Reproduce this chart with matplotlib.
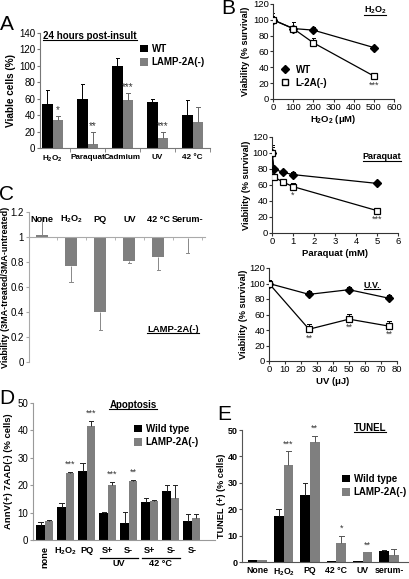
import matplotlib.pyplot as plt
import numpy as np
from matplotlib.lines import Line2D

plt.rcParams['font.family'] = ['Liberation Sans', 'DejaVu Sans']
plt.rcParams['mathtext.fontset'] = 'custom'
plt.rcParams['mathtext.rm'] = 'Liberation Sans'
plt.rcParams['mathtext.bf'] = 'Liberation Sans:bold'
plt.rcParams['mathtext.default'] = 'bf'

# ---- data ----
# A: viable cells 24 h post-insult
a_cats = ['H$_2$O$_2$', 'Paraquat', 'Cadmium', 'UV', '42 °C']
a_wt = [54, 60, 100, 56, 40]
a_wt_err = [17, 18, 9, 4, 19]
a_l2 = [34, 5, 59, 12, 32]
a_l2_err = [5, 14, 8, 7, 18]
a_stars = ['*', '**', '***', '***', '']

# B: dose curves
b1_x = [0, 100, 200, 500]
b1_wt = [100, 89, 87, 65]
b1_wt_err = [5, 3, 4, 2]
b1_l2 = [100, 89, 71, 29]
b1_l2_err = [9, 8, 6, 2]
b1_stars = ['', '', '', '***']

b2_x = [0, 0.1, 0.5, 1, 5]
b2_wt = [100, 80, 76, 73, 62]
b2_wt_err = [10, 3, 3, 3, 2]
b2_l2 = [100, 70, 64, 58, 28]
b2_l2_err = [8, 3, 4, 4, 2]
b2_stars = ['', '', '', '*', '***']

b3_x = [0, 25, 50, 75]
b3_wt = [100, 86, 92, 81]
b3_wt_err = [5, 4, 4, 4]
b3_l2 = [100, 41, 54, 45]
b3_l2_err = [5, 7, 7, 7]
b3_stars = ['', '**', '**', '**']

# C: 3MA ratio, LAMP-2A(-)
c_cats = ['None', 'H$_2$O$_2$', 'PQ', 'UV', '42 °C', 'Serum-']
c_vals = [1.02, 0.77, 0.40, 0.81, 0.84, 0.99]
c_err = [0.14, -0.13, -0.14, -0.02, -0.10, -0.12]

# D: apoptosis
d_cats = ['none', 'H$_2$O$_2$', 'PQ', 'S+', 'S-', 'S+', 'S-', 'S-']
d_groups = [('UV', 3, 4), ('42 °C', 5, 6)]
d_wt = [5.5, 12.2, 25.2, 9.8, 6.3, 14.0, 17.9, 7.0]
d_wt_err = [1.2, 1.4, 2.8, 0.6, 4.1, 1.2, 2.0, 2.4]
d_l2 = [6.8, 24.4, 41.7, 20.1, 21.5, 14.4, 15.2, 8.2]
d_l2_err = [0.4, 0.5, 1.6, 1.1, 0.5, 0.2, 4.7, 1.2]
d_stars = ['', '***', '***', '***', '**', '', '', '']

# E: TUNEL
e_cats = ['None', 'H$_2$O$_2$', 'PQ', '42 °C', 'UV', 'serum-']
e_wt = [0.9, 17.5, 25.4, 0.5, 0.3, 4.0]
e_wt_err = [0, 2.7, 4.5, 0, 0, 0.7]
e_l2 = [0.9, 36.9, 45.5, 7.2, 3.7, 2.5]
e_l2_err = [0, 5.0, 2.4, 2.8, 0, 2.5]
e_stars = ['', '***', '**', '*', '**', '']

GRAY = '#7f7f7f'
W, H = 410, 579
fig = plt.figure(figsize=(W / 100, H / 100), dpi=100)
underlined = []


def place(l, r, t, b):
    return fig.add_axes([l / W, 1 - b / H, (r - l) / W, (b - t) / H])


def ftext(x, y, s, under=False, **kw):
    kw.setdefault('ha', 'center')
    kw.setdefault('va', 'center')
    t = fig.text(x / W, 1 - y / H, s, **kw)
    if under:
        underlined.append(t)
    return t


def ylab(ax, x, s, size=6.8):
    b = ax.get_position()
    fig.text(x / W, b.y0 + b.height / 2, s, rotation=90, ha='center', va='center',
             fontsize=size, weight='bold')


def errs(ax, xs, tops, es, color, cap=0.07, lw=0.7, z=2):
    for xi, t, e in zip(xs, tops, es):
        if e == 0:
            continue
        ax.plot([xi, xi], [t, t + e], color=color, lw=lw, zorder=z, solid_capstyle='butt')
        ax.plot([xi - cap, xi + cap], [t + e, t + e], color=color, lw=lw, zorder=z)


def clean(ax, col='#777777'):
    for s in ['top', 'right']:
        ax.spines[s].set_visible(False)
    for s in ['left', 'bottom']:
        ax.spines[s].set_color(col)
        ax.spines[s].set_linewidth(0.8)
    ax.tick_params(labelsize=7, length=2, color=col, pad=1.5)


LEG = dict(frameon=False, loc='upper left', bbox_transform=fig.transFigure,
           prop={'weight': 'bold', 'size': 7}, handlelength=0.8, handleheight=0.8,
           handletextpad=0.4, labelspacing=0.35, borderaxespad=0, borderpad=0)

# ---- A ----
ax = place(40, 210, 33, 148)
x = np.arange(len(a_cats))
w = 0.3
ax.bar(x - w / 2, a_wt, w, color='black', label='WT')
ax.bar(x + w / 2, a_l2, w, color=GRAY, label='LAMP-2A(-)')
errs(ax, x - w / 2, a_wt, a_wt_err, 'black', cap=0.05)
errs(ax, x + w / 2, a_l2, a_l2_err, '#666666', cap=0.05)
for xi, t, e, s in zip(x + w / 2, a_l2, a_l2_err, a_stars):
    ax.text(xi, t + e + 1, s, ha='center', va='bottom', fontsize=7, color='#333333')
clean(ax)
ax.set_xlim(-0.36, 4.5)
ax.set_ylim(0, 140)
ax.set_yticks(range(0, 141, 20))
ax.set_xticks(x)
ax.set_xticklabels(a_cats, fontsize=5.9, weight='bold')
ax.set_xticks(np.arange(0.5, 5, 1), minor=True)
ax.tick_params(axis='x', which='major', length=0, pad=4)
ax.tick_params(axis='x', which='minor', length=3, color='#777777')
ax.legend(bbox_to_anchor=(140 / W, 1 - 44 / H), **LEG)
ylab(ax, 11, 'Viable cells (%)', 7.2)
ftext(90, 36, '24 hours post-insult', under=True, fontsize=7, weight='bold')
ftext(7, 24, 'A', fontsize=15)


# ---- B ----
def line_panel(box, xs, wt, wte, l2, l2e, stars, xlim, xstep, title, tpos, xlabel, xl_y, ylx):
    ax = place(*box)
    errs(ax, xs, wt, wte, 'black', cap=xlim * 0.012, z=1)
    errs(ax, xs, l2, l2e, 'black', cap=xlim * 0.012, z=1)
    ax.plot(xs, wt, color='black', lw=0.9, marker='D', ms=3.8, mfc='black', zorder=3)
    ax.plot(xs, l2, color='black', lw=0.9, marker='s', ms=5, mfc='white', mew=0.9, zorder=3)
    for xi, v, s in zip(xs, l2, stars):
        ax.text(xi, v - 11, s, ha='center', va='center', fontsize=6.5, color='#333333')
    clean(ax, '#333333')
    ax.set_xlim(0, xlim)
    ax.set_ylim(0, 120)
    ax.set_xticks(np.arange(0, xlim + xstep / 2, xstep))
    ax.set_yticks(range(0, 121, 20))
    ax.tick_params(labelsize=6.8, pad=1)
    ftext(tpos[0], tpos[1], title, under=True, fontsize=6.5, weight='bold')
    ftext((box[0] + box[1]) / 2, xl_y, xlabel, fontsize=6.8, weight='bold')
    ylab(ax, ylx, 'Viability (% survival)', 6.6)
    return ax


ax = line_panel((273, 394, 4, 99), b1_x, b1_wt, b1_wt_err, b1_l2, b1_l2_err, b1_stars,
                600, 100, 'H$_2$O$_2$', (375, 10), 'H$_2$O$_2$ (μM)', 120, 246)
hl = [Line2D([], [], color='black', marker='D', ms=4, ls='none', label='WT'),
      Line2D([], [], color='black', marker='s', ms=5, mfc='white', ls='none', label='L-2A(-)')]
leg_b = dict(LEG)
leg_b.update(handlelength=1.2, handletextpad=0.5, labelspacing=0.3)
ax.legend(handles=hl, bbox_to_anchor=(279 / W, 1 - 65 / H), **leg_b)
line_panel((272, 398, 137, 233), b2_x, b2_wt, b2_wt_err, b2_l2, b2_l2_err, b2_stars,
           6, 1, 'Paraquat', (382, 157), 'Paraquat (mM)', 253, 247)
line_panel((269, 397, 268, 361), b3_x, b3_wt, b3_wt_err, b3_l2, b3_l2_err, b3_stars,
           80, 10, 'U.V.', (372, 285), 'UV (μJ)', 381, 244)
ftext(228, 9, 'B', fontsize=15)

# ---- C ----
ax = place(29, 205, 212, 362)
x = np.arange(len(c_cats))
ax.bar(x, np.array(c_vals) - 1, 0.41, bottom=1, color=GRAY)
errs(ax, x, c_vals, c_err, '#888888', cap=0.06)
clean(ax, '#aaaaaa')
ax.spines['bottom'].set_position(('data', 1))
ax.set_xlim(-0.45, 5.6)
ax.set_ylim(0, 1.2)
ax.set_yticks(np.arange(0, 1.21, 0.2))
ax.set_yticklabels(['0', '0.2', '0.4', '0.6', '0.8', '1', '1.2'])
ax.set_xticks([])
ax.set_xticks(np.arange(0.5, 5.6, 1), minor=True)
ax.tick_params(axis='x', which='minor', length=2, color='#aaaaaa', labelbottom=False)
for xi, s in zip(x, c_cats):
    ax.text(xi, 1.14, s, ha='center', va='center', fontsize=6.6, weight='bold')
ylab(ax, 6, 'Viability (3MA-treated/3MA-untreated)', 6.5)
ftext(173, 329, 'LAMP-2A(-)', under=True, fontsize=6.8, weight='bold')
ftext(7, 195, 'C', fontsize=15)

# ---- D ----
ax = place(33, 215, 403, 540)
x = np.arange(len(d_cats))
w = 0.4
ax.bar(x - w / 2, d_wt, w, color='black', label='Wild type')
ax.bar(x + w / 2, d_l2, w, color=GRAY, label='LAMP-2A(-)')
errs(ax, x - w / 2, d_wt, d_wt_err, '#222222', cap=0.1)
errs(ax, x + w / 2, d_l2, d_l2_err, '#222222', cap=0.1)
for xi, t, e, s in zip(x + w / 2, d_l2, d_l2_err, d_stars):
    ax.text(xi, t + e + 1.2, s, ha='center', va='bottom', fontsize=6.5, color='#333333')
clean(ax, '#999999')
ax.set_xlim(-0.56, 8.1)
ax.set_ylim(0, 50)
ax.set_yticks(range(0, 51, 10))
ax.set_xticks(x)
ax.set_xticklabels(d_cats, fontsize=6.6, weight='bold')
ax.tick_params(axis='x', length=0, pad=4)
ax.get_xticklabels()[0].set_rotation(90)
ax.get_xticklabels()[0].set_va('top')
tr = ax.get_xaxis_transform()
for name, i0, i1 in d_groups:
    ax.plot([i0 - 0.38, i1 + 0.42], [-0.128, -0.128], transform=tr, color='black',
            lw=0.9, clip_on=False)
    ax.text((i0 + i1) / 2 + 0.02, -0.175, name, transform=tr, ha='center', va='center',
            fontsize=6.6, weight='bold')
ax.legend(bbox_to_anchor=(134 / W, 1 - 424 / H), **LEG)
ylab(ax, 9, 'AnnV(+) 7AAD(-) (% cells)')
ftext(133, 405, 'Apoptosis', under=True, fontsize=7, weight='bold')
ftext(7, 398, 'D', fontsize=15)

# ---- E ----
ax = place(242, 410, 430, 562)
x = np.arange(len(e_cats))
w = 0.37
ax.bar(x - w / 2, e_wt, w, color='black', label='Wild type')
ax.bar(x + w / 2, e_l2, w, color=GRAY, label='LAMP-2A(-)')
errs(ax, x - w / 2, e_wt, e_wt_err, '#222222', cap=0.09)
errs(ax, x + w / 2, e_l2, e_l2_err, '#555555', cap=0.09)
for xi, t, e, s in zip(x + w / 2, e_l2, e_l2_err, e_stars):
    ax.text(xi, t + e + 1.0, s, ha='center', va='bottom', fontsize=6.5, color='#333333')
clean(ax, '#555555')
ax.set_xlim(-0.58, 5.8)
ax.set_ylim(0, 50)
ax.set_yticks(range(0, 51, 10))
ax.set_yticklabels([str(v) for v in range(0, 51, 10)], weight='bold', fontsize=6.5)
ax.tick_params(axis='y', pad=1)
ax.set_xticks(x)
ax.set_xticklabels(e_cats, fontsize=6.3, weight='bold')
ax.tick_params(axis='x', length=0, pad=3)
ax.legend(bbox_to_anchor=(342 / W, 1 - 474 / H), **LEG)
ylab(ax, 222, 'TUNEL (+) (% cells)', 6.6)
ftext(370, 428, 'TUNEL', under=True, fontsize=7, weight='bold')
ftext(224, 415, 'E', fontsize=15)

# underline titles
fig.canvas.draw()
inv = fig.transFigure.inverted()
for t in underlined:
    bb = t.get_window_extent()
    (x0, y0), (x1, _) = inv.transform([(bb.x0, bb.y0 + 1), (bb.x1, bb.y0)])
    fig.add_artist(Line2D([x0, x1], [y0, y0], transform=fig.transFigure, color='black', lw=0.8))

fig.savefig('out.png', dpi=100)
